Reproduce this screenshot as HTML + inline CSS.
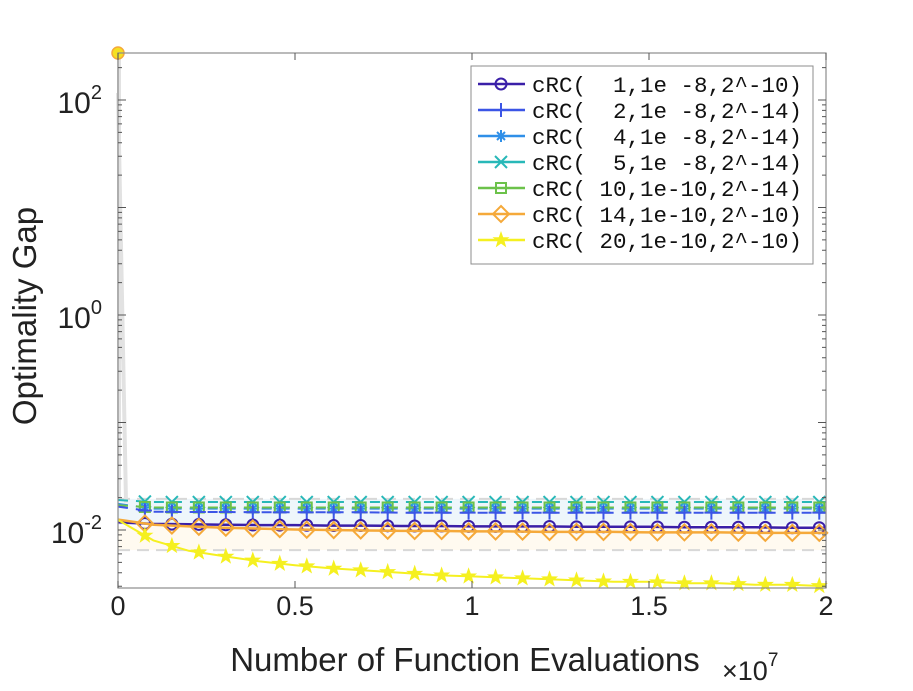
<!DOCTYPE html>
<html><head><meta charset="utf-8"><style>
body{margin:0;background:#fff;}
svg text{font-family:"Liberation Sans",Arial,sans-serif;}
</style></head><body>
<svg id="chart" width="913" height="686" viewBox="0 0 913 686" xmlns="http://www.w3.org/2000/svg">
<g id="plot"></g>
</svg>
<script>
const xs=[0,0.1,0.2,0.3,0.4,0.5,0.6,0.7,0.8,0.9,1.0,1.1,1.2,1.3,1.4,1.5,1.6,1.7,1.8,1.9,2.0];
const sPurple=[0.0118,0.0114,0.0113,0.0112,0.0111,0.0111,0.0110,0.0110,0.0109,0.0109,0.0108,0.0108,0.0108,0.0107,0.0107,0.0107,0.0106,0.0106,0.0106,0.0105,0.0105];
const sBlue=[0.0165,0.0148,0.0147,0.0147,0.0146,0.0146,0.0146,0.0146,0.0145,0.0145,0.0145,0.0145,0.0145,0.0145,0.0145,0.0145,0.0145,0.0145,0.0145,0.0145,0.0145];
const sLBlue=[0.0175,0.0158,0.0158,0.0158,0.0158,0.0158,0.0158,0.0158,0.0158,0.0158,0.0158,0.0158,0.0158,0.0158,0.0158,0.0158,0.0158,0.0158,0.0158,0.0158,0.0158];
const sCyan=[0.0190,0.0182,0.0182,0.0182,0.0182,0.0182,0.0182,0.0182,0.0182,0.0182,0.0182,0.0182,0.0182,0.0182,0.0182,0.0182,0.0182,0.0182,0.0182,0.0182,0.0182];
const sGreen=[0.0170,0.0162,0.0162,0.0162,0.0162,0.0162,0.0162,0.0162,0.0162,0.0162,0.0162,0.0162,0.0162,0.0162,0.0162,0.0162,0.0162,0.0162,0.0162,0.0162,0.0162];
const sOrange=[0.0125,0.0112,0.0108,0.0105,0.0103,0.0101,0.0100,0.0099,0.0098,0.0098,0.0097,0.0097,0.0096,0.0096,0.0096,0.0095,0.0095,0.0095,0.0094,0.0094,0.0094];
const sYellow=[0.0124,0.0080,0.0064,0.0057,0.0051,0.0047,0.0044,0.0042,0.0040,0.0038,0.0037,0.0036,0.0035,0.0034,0.0033,0.0033,0.0032,0.0032,0.0031,0.0031,0.0030];
const xTicks=[0,0.5,1,1.5,2];
const xTickLabels=["0","0.5","1","1.5","2"];
const yTicks=[-2,0,2];
const legendLabels=["cRC(  1,1e -8,2^-10)","cRC(  2,1e -8,2^-14)","cRC(  4,1e -8,2^-14)","cRC(  5,1e -8,2^-14)","cRC( 10,1e-10,2^-14)","cRC( 14,1e-10,2^-10)","cRC( 20,1e-10,2^-10)"];

const L=118,R=826,T=53,B=588;
const X=v=>L+(v/2)*(R-L);
const Y=v=>315-107.5*Math.log10(v);
const NS="http://www.w3.org/2000/svg";
const svg=document.getElementById('chart');
function mk(tag,attrs,parent){const e=document.createElementNS(NS,tag);for(const k in attrs)e.setAttribute(k,attrs[k]);(parent||svg).appendChild(e);return e;}
function interp(arr,x){let i=Math.min(Math.floor(x/0.1),xs.length-2);const t=(x-xs[i])/0.1;return Math.exp(Math.log(arr[i])*(1-t)+Math.log(arr[i+1])*t);}

let b1=mk('rect',{x:L,y:Y(0.0195),width:R-L,height:Y(0.0112)-Y(0.0195),fill:'#eef6fb'});


let b2=mk('rect',{x:L,y:Y(0.0108),width:R-L,height:Y(0.0065)-Y(0.0108),fill:'#fffaf0'});


[0.0195,0.0065].forEach(v=>{const l=mk('line',{x1:L,x2:R,y1:Y(v),y2:Y(v),stroke:'#d8d8d8','stroke-width':2,'stroke-dasharray':'12,7'});

});
let sp=mk('path',{d:`M${L+1},${T} L${L+1},${Y(0.02)} M${L},${T+40} Q${L+3},200 ${L+8},${Y(0.018)}`,stroke:'#e2e2e2','stroke-width':4,fill:'none'});



const series=[
 {d:sCyan,c:'#28b8b8',m:'x',dash:'10,8',w:2},
 {d:sLBlue,c:'#2f8fe8',m:'*',dash:'10,8',w:2},
 {d:sGreen,c:'#6cc24a',m:'sq',dash:'10,8',w:2},
 {d:sBlue,c:'#3b55e6',m:'+',dash:'10,8',w:2},
 {d:sPurple,c:'#3a1fa8',m:'o',dash:'',w:2.5},
 {d:sOrange,c:'#f5a93a',m:'d',dash:'',w:2.5},
 {d:sYellow,c:'#f5f020',m:'star',dash:'',w:2}
];
const names=['series-cyan-5','series-lightblue-4','series-green-10','series-blue-2','series-purple-1','series-orange-14','series-yellow-20'];
function marker(type,x,y,c,g){
 let e;
 if(type==='o') e=mk('circle',{cx:x,cy:y,r:5.5,fill:'none',stroke:c,'stroke-width':2},g);
 else if(type==='d') e=mk('path',{d:`M${x},${y-8}L${x+8},${y}L${x},${y+8}L${x-8},${y}Z`,fill:'none',stroke:c,'stroke-width':2},g);
 else if(type==='sq') e=mk('rect',{x:x-5,y:y-5,width:10,height:10,fill:'none',stroke:c,'stroke-width':2},g);
 else if(type==='x') e=mk('path',{d:`M${x-6},${y-6}L${x+6},${y+6}M${x-6},${y+6}L${x+6},${y-6}`,stroke:c,'stroke-width':2},g);
 else if(type==='+') e=mk('path',{d:`M${x-7},${y}L${x+7},${y}M${x},${y-7}L${x},${y+7}`,stroke:c,'stroke-width':2},g);
 else if(type==='*') e=mk('path',{d:`M${x-6},${y}L${x+6},${y}M${x},${y-6}L${x},${y+6}M${x-4},${y-4}L${x+4},${y+4}M${x-4},${y+4}L${x+4},${y-4}`,stroke:c,'stroke-width':2},g);
 else { let p='';for(let i=0;i<10;i++){const r=i%2?3:7.5;const a=-Math.PI/2+i*Math.PI/5;p+=(i?'L':'M')+(x+r*Math.cos(a)).toFixed(1)+','+(y+r*Math.sin(a)).toFixed(1);} e=mk('path',{d:p+'Z',fill:c,stroke:c,'stroke-width':1},g);}
 return e;
}
series.forEach((s,k)=>{
 const g=mk('g',{});
 
 
 const pts=xs.map((x,i)=>X(x).toFixed(1)+','+Y(s.d[i]).toFixed(1)).join(' ');
 const pl=mk('polyline',{points:pts,fill:'none',stroke:s.c,'stroke-width':s.w,'stroke-dasharray':s.dash},g);
 
 
 for(let xv=0.076;xv<=2.001;xv+=0.0762){
  const m=marker(s.m,X(xv),Y(interp(s.d,Math.min(xv,2))),s.c,g);
  
  
 }
});
let sm=mk('circle',{cx:L,cy:T,r:6,fill:'#f5e020',stroke:'#f5a93a','stroke-width':1.5});



let ax=mk('rect',{x:L,y:T,width:R-L,height:B-T,fill:'none',stroke:'#8c8c8c','stroke-width':1.2});


xTicks.forEach((t,i)=>{
 const x=X(t);
 const tk=mk('path',{d:`M${x},${B}L${x},${B-7}M${x},${T}L${x},${T+7}`,stroke:'#555','stroke-width':1});
 
 
 const tx=mk('text',{x:x,y:615,'font-size':27,'text-anchor':'middle',fill:'#222'});
 tx.textContent=xTickLabels[i];
 
 
});
for(let d=-3;d<=2;d++){for(let m=1;m<10;m++){const v=m*Math.pow(10,d);const y=Y(v);if(y<T||y>B)continue;
 const len=m===1?8:4;
 const tk=mk('path',{d:`M${L},${y}L${L+len},${y}M${R},${y}L${R-len},${y}`,stroke:'#555','stroke-width':1});
 
 }}
yTicks.forEach(e=>{
 const tx=mk('text',{x:102,y:Y(Math.pow(10,e))+13,'font-size':30,'text-anchor':'end',fill:'#222'});
 tx.innerHTML='10<tspan dy="-14" font-size="20">'+e+'</tspan>';
 
 
});
let yl=mk('text',{x:0,y:0,'font-size':33,'text-anchor':'middle',fill:'#222',transform:'translate(36,316) rotate(-90)'});
yl.textContent='Optimality Gap';


let xl=mk('text',{x:465,y:671,'font-size':33,'text-anchor':'middle',fill:'#222'});
xl.textContent='Number of Function Evaluations';


let xe=mk('text',{x:722,y:680,'font-size':27,fill:'#222'});
xe.innerHTML='×10<tspan dy="-14" font-size="19">7</tspan>';



const lg=mk('g',{});


mk('rect',{x:471,y:66,width:342,height:198,fill:'#fff',stroke:'#8c8c8c','stroke-width':1},lg);
const legOrder=[4,3,1,0,2,5,6];
legOrder.forEach((si,i)=>{
 const s=series[si];const y=84+i*26;
 const e=mk('g',{},lg);
 
 
 mk('line',{x1:478,x2:525,y1:y,y2:y,stroke:s.c,'stroke-width':2.5},e);
 marker(s.m,501,y,s.c,e);
 const t=mk('text',{x:532,y:y+8,'font-size':22.5,fill:'#111','xml:space':'preserve'},e);
 t.setAttribute('style','font-family:"Liberation Mono",monospace;white-space:pre');
 t.textContent=legendLabels[i];
});
</script>
</body></html>
